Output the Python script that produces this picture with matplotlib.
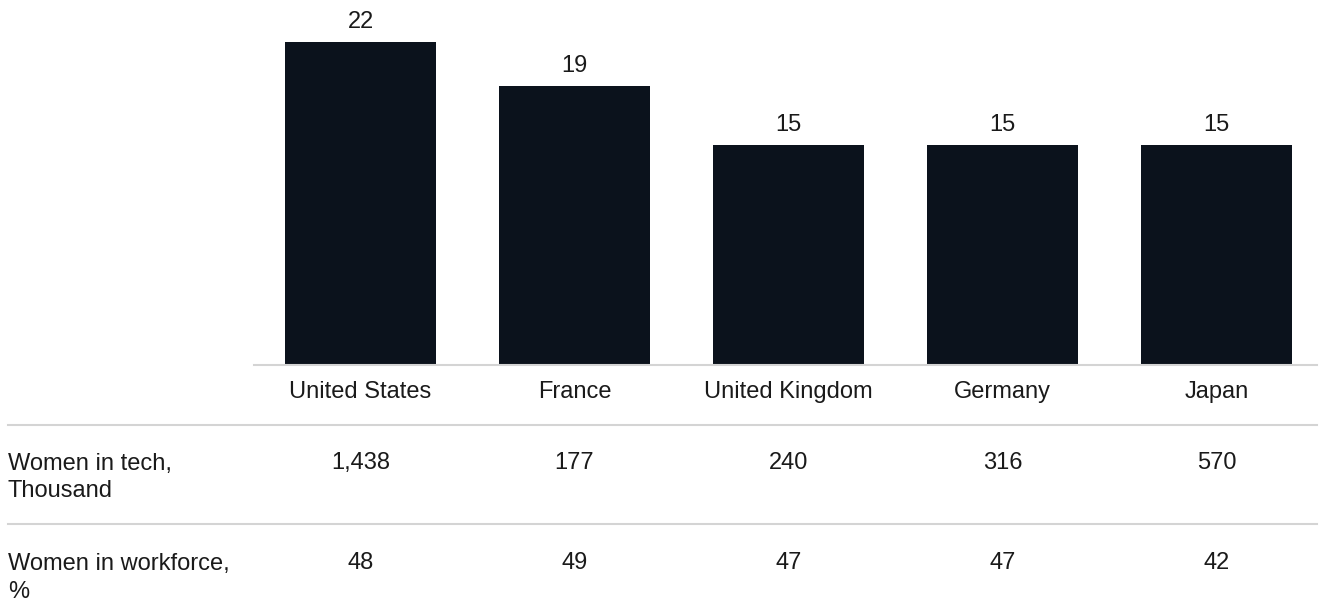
import matplotlib
matplotlib.use("Agg")
import matplotlib.pyplot as plt
from matplotlib.lines import Line2D
from matplotlib.transforms import blended_transform_factory

countries = ["United States", "France", "United Kingdom", "Germany", "Japan"]
share_pct = [22, 19, 15, 15, 15]
women_in_tech = ["1,438", "177", "240", "316", "570"]
women_in_workforce = ["48", "49", "47", "47", "42"]
row_labels = ["Women in tech,\nThousand", "Women in workforce,\n%"]

plt.rcParams["font.family"] = ["Liberation Sans", "DejaVu Sans"]

W, H = 1319, 616
fig = plt.figure(figsize=(W / 100, H / 100), dpi=100)
fs = 17
txt = "#1a1a1a"
grid = "#d4d4d4"

ax = fig.add_axes([254 / W, (H - 365) / H, (1317 - 254) / W, 365 / H])
x = list(range(len(countries)))
ax.bar(x, share_pct, width=0.706, color="#0b121c")
ax.set_xlim(-0.498, 4.47)
ax.set_ylim(0, 24.86)
for s in ["top", "right", "left"]:
    ax.spines[s].set_visible(False)
ax.spines["bottom"].set_color(grid)
ax.spines["bottom"].set_linewidth(1.5)
ax.set_yticks([])
ax.set_xticks([])
for xi, v in zip(x, share_pct):
    ax.annotate(str(v), (xi, v), xytext=(0, 9), textcoords="offset pixels",
                ha="center", va="bottom", fontsize=fs, color=txt)

tr = blended_transform_factory(ax.transData, fig.transFigure)
def fy(py):
    return 1 - py / H

for xi, c in zip(x, countries):
    fig.text(xi, fy(392), c, transform=tr, ha="center", va="center", fontsize=fs, color=txt)
for xi, v in zip(x, women_in_tech):
    fig.text(xi, fy(463), v, transform=tr, ha="center", va="center", fontsize=fs, color=txt)
for xi, v in zip(x, women_in_workforce):
    fig.text(xi, fy(563), v, transform=tr, ha="center", va="center", fontsize=fs, color=txt)

fig.text(8 / W, fy(453), row_labels[0], ha="left", va="top", fontsize=fs, color=txt, linespacing=1.32)
fig.text(8 / W, fy(553), row_labels[1], ha="left", va="top", fontsize=fs, color=txt, linespacing=1.38)

for py in [425, 524]:
    fig.add_artist(Line2D([8 / W, 1317 / W], [fy(py), fy(py)], transform=fig.transFigure,
                          color=grid, linewidth=1.5))

fig.savefig("out.png", dpi=100, facecolor="white")
